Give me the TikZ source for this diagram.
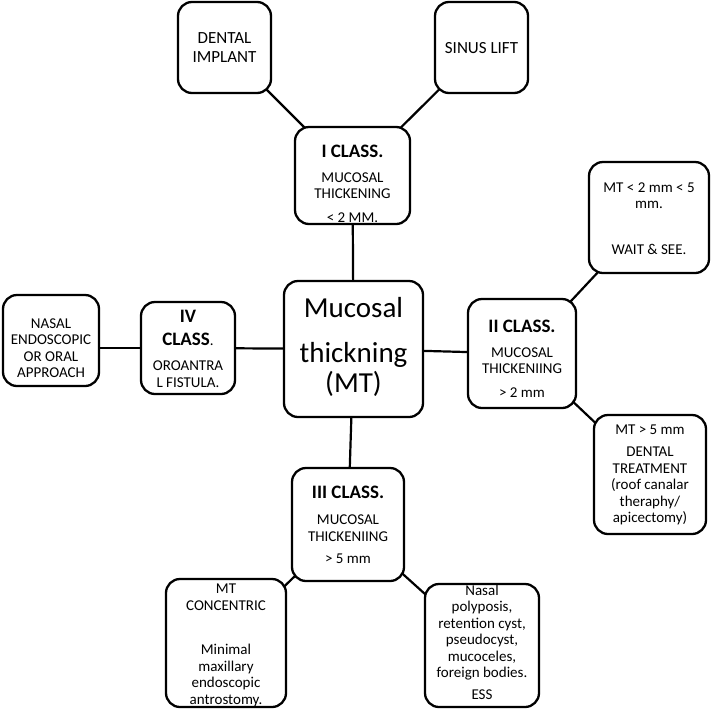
\documentclass[tikz,border=0pt]{standalone}
\usepackage{fontspec}
\setmainfont{Carlito}
\usepackage{xcolor}
\pgfdeclarelayer{bg}
\pgfsetlayers{bg,main}

% box text: width, height, first baseline from top, text
\newcommand{\mtbox}[4]{\parbox[c][#2][t]{#1}{\centering\rule{0pt}{#3}#4\par}}
\newcommand{\ttl}[1]{{\fontsize{19}{21}\selectfont\bfseries #1}}

\tikzset{
  card/.style={draw, line width=2.3pt, rounded corners=14pt, fill=white, inner sep=0pt,
    font=\fontsize{15}{16.5}\selectfont},
  bigcard/.style={card, font=\fontsize{17}{19}\selectfont},
  link/.style={line width=2.2pt},
}

\begin{document}
\begin{tikzpicture}[x=1pt,y=-1pt]
    \useasboundingbox (0,0) rectangle (711,710);

    % Center
    \node[card, font=\fontsize{29}{30}\selectfont] (mt) at (353.5,349)
        {\mtbox{139pt}{136pt}{36pt}{Mucosal\\[15pt]thickning\\(MT)}};

    % Classes
    \node[card] (c1) at (352.5,175.5)
        {\mtbox{115pt}{97pt}{30pt}{\ttl{I CLASS.}\\[8.5pt]MUCOSAL\\THICKENING\\[7pt]< 2 MM.}};
    \node[card] (c2) at (522,353.5)
        {\mtbox{108pt}{109pt}{33pt}{\ttl{II CLASS.}\\[8.5pt]MUCOSAL\\THICKENIING\\[7pt]> 2 mm}};
    \node[card] (c3) at (348,524.5)
        {\mtbox{112pt}{113pt}{30pt}{\ttl{III CLASS.}\\[10pt]MUCOSAL\\THICKENIING\\[6pt]> 5 mm}};
    \node[card] (c4) at (188,348)
        {\mtbox{94pt}{92pt}{20pt}{{\fontsize{19}{21}\selectfont\bfseries IV\\[6.8pt]CLASS}.\\[9pt]OROANTRA\\L FISTULA.}};

    % Class I
    \node[bigcard] (implant) at (224.5,47.5)
        {\mtbox{93pt}{91pt}{41pt}{DENTAL\\IMPLANT}};
    \node[bigcard] (sinus) at (481.5,47.5)
        {\mtbox{93pt}{91pt}{51pt}{SINUS LIFT}};

    % Class II
    \node[card] (wait) at (649,217.5)
        {\mtbox{120pt}{111pt}{30pt}{MT < 2 mm < 5\\mm.\\[29pt]WAIT \& SEE.}};
    \node[card] (treat) at (650,474.5)
        {\mtbox{112pt}{119pt}{19pt}{MT > 5 mm\\[6pt]DENTAL\\TREATMENT\\(roof canalar\\theraphy/\\apicectomy)}};

    % Class III
    \node[card] (conc) at (226,643)
        {\mtbox{120pt}{128pt}{14.5pt}{MT\\CONCENTRIC\\[28pt]Minimal\\maxillary\\endoscopic\\antrostomy.}};
    \node[card] (polyp) at (482,645.5)
        {\mtbox{114pt}{123pt}{11pt}{Nasal\\polyposis,\\retention cyst,\\pseudocyst,\\mucoceles,\\foreign bodies.\\[5pt]ESS}};

    % Class IV
    \node[card] (nasal) at (51,340.5)
        {\mtbox{96pt}{91pt}{33pt}{NASAL\\ENDOSCOPIC\\OR ORAL\\APPROACH}};

    % Lines
    \begin{pgfonlayer}{bg}
    \fill[white] (0,0) rectangle (711,710);
    \draw[link] (mt.center) -- (c1.center);
    \draw[link] (mt.center) -- (c2.center);
    \draw[link] (mt.center) -- (c3.center);
    \draw[link] (mt.center) -- (c4.center);
    \draw[link] (c1.center) -- (implant.center);
    \draw[link] (c1.center) -- (sinus.center);
    \draw[link] (c2.center) -- (wait.center);
    \draw[link] (c2.center) -- (treat.center);
    \draw[link] (c3.center) -- (conc.center);
    \draw[link] (c3.center) -- (polyp.center);
    \draw[link] (c4.center) -- (c4.center -| nasal.center);
    \end{pgfonlayer}
\end{tikzpicture}
\end{document}
